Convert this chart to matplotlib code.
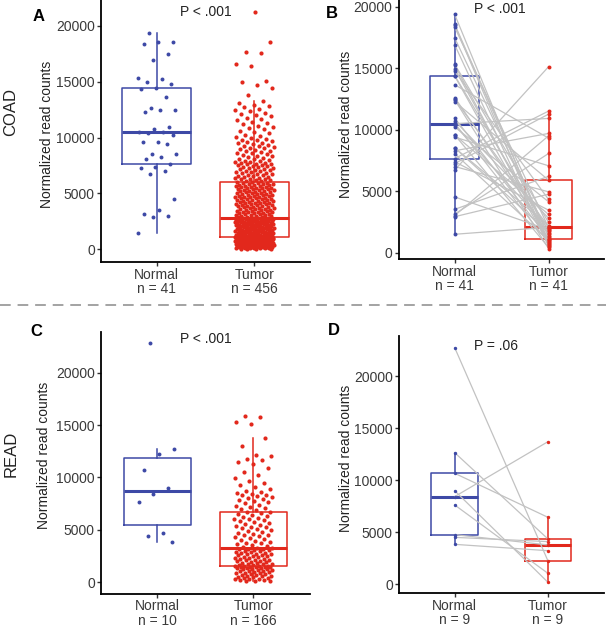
import matplotlib
matplotlib.use("Agg")
import matplotlib.pyplot as plt
import numpy as np
from matplotlib.lines import Line2D

# ---- data ----
coad_normal = [19370, 18570, 18500, 18330, 17460, 16900, 15320, 15260, 14960, 14780,
               14390, 14360, 13650, 12610, 12460, 12430, 12280, 10940, 10730, 10520,
               10480, 10370, 10220, 9570, 9570, 9390, 8520, 8520, 8280, 8050,
               7650, 7390, 7240, 7000, 6710, 4530, 3520, 3130, 3010, 2920, 1490]

# paired tumor sample for each normal above (same order)
coad_tumor_paired = [850, 1250, 600, 2020, 1380, 500, 2450, 920, 1080, 4320,
                     1750, 700, 9310, 1500, 2090, 330, 5890, 1140, 2800, 780,
                     10910, 1950, 4130, 420, 3100, 7060, 1620, 2200, 9690, 1000,
                     11510, 3450, 11260, 4940, 15120, 1850, 6200, 8060, 9500, 4750, 2060]

coad_tumor = [
    30, 45, 60, 70, 85, 95, 110, 120, 130, 145,
    160, 170, 180, 195, 205, 215, 230, 240, 250, 265,
    275, 285, 300, 310, 320, 330, 345, 355, 365, 380,
    390, 400, 410, 420, 435, 445, 455, 465, 480, 490,
    500, 510, 520, 535, 545, 555, 565, 575, 590, 600,
    610, 620, 630, 640, 650, 660, 670, 680, 690, 700,
    710, 720, 730, 740, 750, 760, 770, 780, 790, 800,
    805, 815, 825, 835, 845, 850, 860, 870, 880, 885,
    895, 900, 910, 915, 925, 930, 940, 945, 955, 960,
    965, 975, 980, 990, 995, 1000, 1005, 1010, 1015, 1020,
    1025, 1030, 1035, 1040, 1045, 1050, 1055, 1060, 1062, 1064,
    1066, 1068, 1070, 1072,
    1080, 1100, 1110, 1130, 1140, 1160, 1170, 1190, 1200, 1220,
    1230, 1250, 1260, 1280, 1290, 1310, 1320, 1340, 1350, 1370,
    1380, 1400, 1410, 1430, 1440, 1460, 1470, 1490, 1500, 1520,
    1530, 1550, 1560, 1580, 1590, 1610, 1620, 1640, 1650, 1670,
    1680, 1700, 1710, 1730, 1740, 1760, 1770, 1790, 1800, 1820,
    1830, 1850, 1860, 1880, 1890, 1910, 1920, 1940, 1950, 1970,
    1980, 2000, 2010, 2030, 2040, 2060, 2070, 2090, 2100, 2120,
    2130, 2150, 2160, 2180, 2190, 2210, 2220, 2240, 2250, 2270,
    2280, 2300, 2310, 2330, 2340, 2360, 2370, 2390, 2400, 2420,
    2430, 2450, 2460, 2480, 2490, 2510, 2520, 2540, 2550, 2570,
    2580, 2600, 2610, 2630, 2640, 2660, 2670, 2690, 2700, 2720,
    2730, 2740, 2750, 2760,
    2780, 2810, 2840, 2870, 2900, 2920, 2950, 2980, 3010, 3040,
    3070, 3100, 3120, 3150, 3180, 3210, 3240, 3270, 3300, 3320,
    3350, 3380, 3410, 3440, 3470, 3500, 3520, 3550, 3580, 3610,
    3640, 3670, 3700, 3720, 3750, 3780, 3810, 3840, 3870, 3900,
    3920, 3950, 3980, 4010, 4040, 4070, 4100, 4120, 4150, 4180,
    4210, 4240, 4270, 4300, 4320, 4350, 4380, 4410, 4440, 4470,
    4500, 4520, 4550, 4580, 4610, 4640, 4670, 4700, 4720, 4750,
    4780, 4810, 4840, 4870, 4900, 4920, 4950, 4980, 5010, 5040,
    5070, 5100, 5120, 5150, 5180, 5210, 5240, 5270, 5300, 5320,
    5350, 5380, 5410, 5440, 5470, 5500, 5520, 5550, 5580, 5610,
    5640, 5670, 5700, 5720, 5750, 5780, 5810, 5840, 5870, 5900,
    5930, 5960, 6000, 6040,
    6080, 6120, 6160, 6210, 6250, 6290, 6330, 6380, 6420, 6460,
    6500, 6550, 6590, 6630, 6680, 6720, 6760, 6810, 6850, 6890,
    6940, 6980, 7020, 7070, 7110, 7150, 7200, 7240, 7280, 7330,
    7370, 7410, 7460, 7500, 7540, 7590, 7630, 7670, 7720, 7760,
    7800, 7850, 7890, 7930, 7980,
    8050, 8110, 8180, 8240, 8310, 8370, 8440, 8500, 8570, 8630,
    8700, 8760, 8830, 8890, 8960, 9020, 9090, 9150, 9220, 9280,
    9350, 9410, 9480, 9540, 9610, 9670, 9740, 9800, 9870, 9940,
    10020, 10130, 10250, 10370, 10480, 10600, 10720, 10830, 10950, 11070,
    11180, 11300, 11420, 11530, 11650, 11770, 11880, 12000, 12120, 12230,
    12350, 12470, 12580, 12700, 12820, 12940, 13100, 13260,
    13800, 14390, 14700, 14950, 15050, 16420, 16540, 17580, 17610, 18570, 21250]

read_normal = [22800, 12670, 12250, 10670, 8990, 8450, 7650, 4700, 4450, 3840]

read_tumor = [
    80, 120, 160, 200, 240, 280, 320, 360, 400, 440,
    480, 520, 560, 600, 640, 680, 720, 760, 800, 840,
    880, 920, 960, 1000, 1040, 1080, 1120, 1160, 1200, 1240,
    1270, 1300, 1330, 1360, 1390, 1410, 1430, 1450, 1470, 1490,
    1510, 1515,
    1525, 1570, 1610, 1650, 1700, 1740, 1780, 1830, 1870, 1910,
    1960, 2000, 2040, 2090, 2130, 2170, 2220, 2260, 2300, 2350,
    2390, 2430, 2480, 2520, 2560, 2610, 2650, 2690, 2740, 2780,
    2820, 2870, 2910, 2950, 3000, 3040, 3080, 3130, 3170, 3210,
    3260,
    3280, 3360, 3450, 3530, 3620, 3700, 3790, 3870, 3960, 4040,
    4130, 4210, 4300, 4380, 4470, 4550, 4640, 4720, 4810, 4890,
    4980, 5060, 5150, 5230, 5320, 5400, 5490, 5570, 5660, 5740,
    5830, 5910, 6000, 6080, 6170, 6250, 6340, 6420, 6510, 6600,
    6700,
    6740, 6850, 6960, 7070, 7180, 7300, 7410, 7520, 7640, 7750,
    7870, 7980, 8050, 8120, 8200, 8280, 8350, 8420, 8500, 8600,
    8750, 8900, 9100, 9300, 9500, 9700, 9900, 10200, 10500, 10900,
    11300, 11500, 11700, 11800, 12000, 12100, 13000, 13750,
    15100, 15300, 15800, 15900]

read_normal_paired = [22720, 12640, 10660, 8990, 8420, 7620, 4770, 4510, 3840]
read_tumor_paired = [2240, 4350, 6430, 190, 13700, 1050, 3780, 4100, 3230]

groups = ["Normal", "Tumor"]
p_labels = ["P < .001", "P < .001", "P < .001", "P = .06"]
panel_letters = ["A", "B", "C", "D"]
row_labels = ["COAD", "READ"]

# ---- style ----
plt.rcParams["font.family"] = ["Liberation Sans", "DejaVu Sans"]
BLUE = "#3d49a6"
RED = "#e2281c"
GREY_LINE = "#c2c2c2"
W, H = 606, 628

fig = plt.figure(figsize=(W / 100, H / 100), dpi=100)


def make_axes(left, right, top, bottom):
    return fig.add_axes([left / W, 1 - bottom / H, (right - left) / W, (bottom - top) / H])


def ftext(x, y, s, **kw):
    fig.text(x / W, 1 - y / H, s, **kw)


def jitter(n, width=0.2):
    # deterministic spread (golden ratio sequence)
    return ((np.arange(n) * 0.6180339887 + 0.31) % 1.0 - 0.5) * 2 * width


def style(ax, xlim, ylim, counts):
    ax.set_xlim(*xlim)
    ax.set_ylim(*ylim)
    for s in ["top", "right"]:
        ax.spines[s].set_visible(False)
    for s in ["left", "bottom"]:
        ax.spines[s].set_linewidth(1.3)
        ax.spines[s].set_color("black")
    ax.set_yticks([0, 5000, 10000, 15000, 20000])
    ax.set_yticklabels(["0", "5000", "10000", "15000", "20000"])
    ax.set_xticks([1, 2])
    ax.set_xticklabels([f"{g}\nn = {c}" for g, c in zip(groups, counts)], linespacing=1.05)
    ax.tick_params(axis="both", length=3, width=1.0, color="#333333",
                   labelsize=10, labelcolor="#3a3a3a", pad=1.5)
    ax.tick_params(axis="x", pad=1.0)
    ax.patch.set_alpha(0)


def draw_box(ax, data, pos, color, width):
    ax.boxplot([data], positions=[pos], widths=width, showfliers=False, showcaps=False,
               whis=1.5, manage_ticks=False,
               boxprops=dict(color=color, linewidth=1.1),
               whiskerprops=dict(color=color, linewidth=1.1),
               medianprops=dict(color=color, linewidth=2.2),
               zorder=2)


# ---- panel A ----
axA = make_axes(101, 310, 0, 262)
draw_box(axA, coad_normal, 1, BLUE, 0.7)
draw_box(axA, coad_tumor, 2, RED, 0.7)
axA.scatter(1 + jitter(len(coad_normal)), coad_normal, s=8, color=BLUE, linewidths=0, zorder=3)
axA.scatter(2 + jitter(len(coad_tumor)), coad_tumor, s=9, color=RED, linewidths=0, zorder=3)
style(axA, (0.43, 2.57), (-1136, 22300), [len(coad_normal), len(coad_tumor)])

# ---- panel B ----
axB = make_axes(398.7, 604, 0, 259.3)
draw_box(axB, coad_normal, 1, BLUE, 0.52)
draw_box(axB, coad_tumor_paired, 2, RED, 0.5)
for n_val, t_val in zip(coad_normal, coad_tumor_paired):
    axB.plot([1, 2], [n_val, t_val], color=GREY_LINE, linewidth=0.9, zorder=2.5)
axB.scatter([1] * len(coad_normal), coad_normal, s=8, color=BLUE, linewidths=0, zorder=3)
axB.scatter([2] * len(coad_tumor_paired), coad_tumor_paired, s=8, color=RED, linewidths=0, zorder=3)
style(axB, (0.404, 2.59), (-545, 20540), [len(coad_normal), len(coad_tumor_paired)])

# ---- panel C ----
axC = make_axes(101, 310, 331.7, 593.5)
draw_box(axC, read_normal, 1, BLUE, 0.7)
draw_box(axC, read_tumor, 2, RED, 0.7)
axC.scatter(1 + jitter(len(read_normal)), read_normal, s=8, color=BLUE, linewidths=0, zorder=3)
axC.scatter(2 + jitter(len(read_tumor)), read_tumor, s=9, color=RED, linewidths=0, zorder=3)
style(axC, (0.414, 2.59), (-1070, 23900), [len(read_normal), len(read_tumor)])

# ---- panel D ----
axD = make_axes(399, 604, 336, 593.3)
draw_box(axD, read_normal_paired, 1, BLUE, 0.51)
draw_box(axD, read_tumor_paired, 2, RED, 0.5)
for n_val, t_val in zip(read_normal_paired, read_tumor_paired):
    axD.plot([1, 2], [n_val, t_val], color=GREY_LINE, linewidth=0.9, zorder=2.5)
axD.scatter([1] * len(read_normal_paired), read_normal_paired, s=6, color=BLUE, linewidths=0, zorder=3)
axD.scatter([2] * len(read_tumor_paired), read_tumor_paired, s=6, color=RED, linewidths=0, zorder=3)
style(axD, (0.403, 2.6), (-860, 23840), [len(read_normal_paired), len(read_tumor_paired)])

# ---- text ----
for (x, y), s in zip([(206, 15.7), (499.7, 13.3), (205.8, 343.3), (495.5, 350)], p_labels):
    ftext(x, y, s, ha="center", va="baseline", fontsize=10, color="#222222")
for (x, y), s in zip([(38.3, 16.2), (332.3, 14), (36.3, 331), (334.3, 330.5)], panel_letters):
    ftext(x, y, s, ha="center", va="center", fontsize=12, fontweight="bold", color="black")
for (x, y) in [(46.7, 134), (345.8, 124.7), (44.5, 455.8), (345.8, 458.3)]:
    ftext(x, y, "Normalized read counts", ha="center", va="center", rotation=90,
          fontsize=10, color="#222222")
for (x, y), s in zip([(11, 112), (11, 454)], row_labels):
    ftext(x, y, s, ha="center", va="center", rotation=90, fontsize=12, color="#222222")

# dashed separator between rows
fig.add_artist(Line2D([0, 1], [1 - 305 / H, 1 - 305 / H], transform=fig.transFigure,
                      color="#8a8a8a", linewidth=1.1, dashes=(7, 4.5)))

fig.savefig("out.png", dpi=100)
